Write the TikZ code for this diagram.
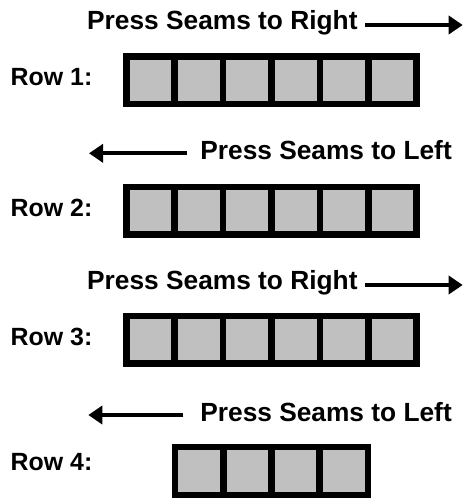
\documentclass[tikz,border=0pt]{standalone}
\usepackage{fontspec}
\setmainfont{Liberation Sans}
\usetikzlibrary{arrows.meta}
\definecolor{sqgray}{RGB}{192,192,192}
\begin{document}
\begin{tikzpicture}[x=1pt,y=-1pt,
  sqbox/.style={draw=black,fill=sqgray,line width=6.5pt,minimum width=48.4pt,minimum height=47.7pt,inner sep=0pt,outer sep=0pt},
  hd/.style={anchor=base west,inner sep=0pt,font=\fontsize{26.3}{30}\selectfont\bfseries},
  lbl/.style={anchor=base west,inner sep=0pt,font=\fontsize{24.9}{29}\selectfont\bfseries},
  arr/.style={line width=4pt,-{Triangle[length=14pt,width=18pt]}}]
\useasboundingbox (0,0) rectangle (463,498);
% Row 1
\node[hd] (h1) at (87,29) {Press Seams to Right};
\coordinate (a1s) at (365,25);
\coordinate (a1e) at (462.7,25);
\draw[arr] (a1s) -- (a1e);
\node[lbl] (l1) at (10.5,85.7) {Row 1:};
\foreach \i in {0,...,5} \node[sqbox] (r1s\i) at (150.45+48.4*\i,80.3) {};
% Row 2
\node[hd,anchor=base east] (h2) at (452,159) {Press Seams to Left};
\coordinate (a2s) at (186.7,153.3);
\coordinate (a2e) at (89,153.3);
\draw[arr] (a2s) -- (a2e);
\node[lbl] (l2) at (10.5,216) {Row 2:};
\foreach \i in {0,...,5} \node[sqbox] (r2s\i) at (150.45+48.4*\i,210.7) {};
% Row 3
\node[hd] (h3) at (87,289) {Press Seams to Right};
\coordinate (a3s) at (365,285);
\coordinate (a3e) at (462.7,285);
\draw[arr] (a3s) -- (a3e);
\node[lbl] (l3) at (10.5,345.2) {Row 3:};
\foreach \i in {0,...,5} \node[sqbox] (r3s\i) at (150.45+48.4*\i,339.8) {};
% Row 4
\node[hd,anchor=base east] (h4) at (452,421) {Press Seams to Left};
\coordinate (a4s) at (183.3,415);
\coordinate (a4e) at (88.3,415);
\draw[arr] (a4s) -- (a4e);
\node[lbl] (l4) at (10.5,470.7) {Row 4:};
\foreach \i in {0,...,3} \node[sqbox] (r4s\i) at (199.3+48.2*\i,471) {};
\end{tikzpicture}
\end{document}
